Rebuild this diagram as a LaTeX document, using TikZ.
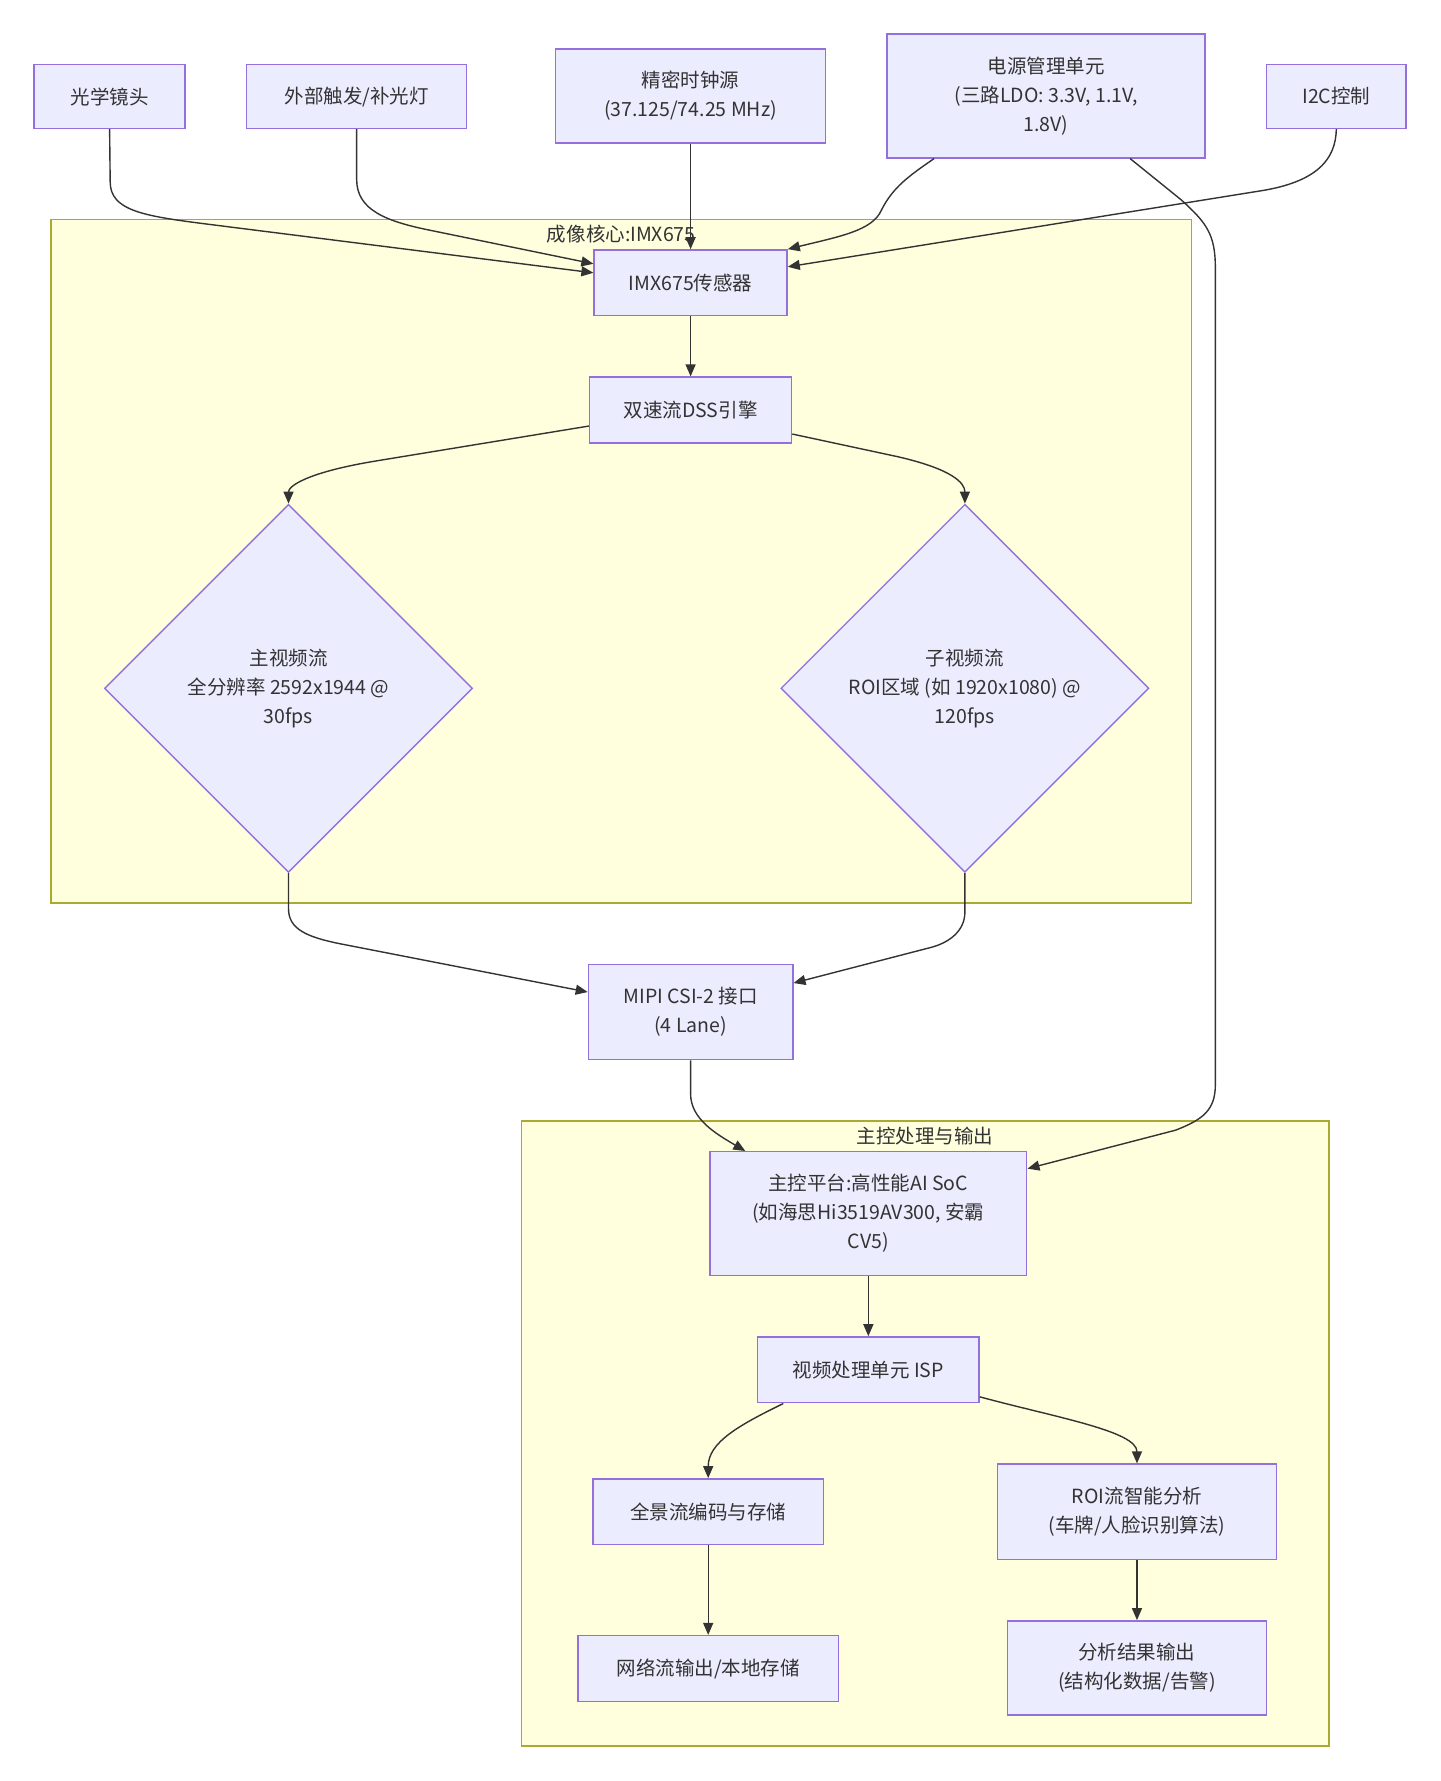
\documentclass[tikz,border=0pt]{standalone}
\usepackage{fontspec}
\setmainfont{Noto Sans CJK SC}
\usetikzlibrary{shapes.geometric,arrows.meta}
\definecolor{nodefill}{HTML}{ECECFF}
\definecolor{nodeline}{HTML}{9370DB}
\definecolor{clfill}{HTML}{FFFFDE}
\definecolor{clline}{HTML}{AAAA33}
\definecolor{ink}{HTML}{333333}
\begin{document}
\begin{tikzpicture}[x=1.13565pt,y=-1.13565pt,
  txt/.style={text=ink,font=\fontsize{19.5pt}{29pt}\selectfont},
  box/.style={txt,draw=nodeline,fill=nodefill,line width=1.4pt,align=center,inner sep=0pt},
  dia/.style={box,diamond,aspect=1,minimum width=368pt,minimum height=368pt},
  cluster/.style={draw=clline,fill=clfill,line width=1.4pt},
  arr/.style={draw=ink,line width=1.4pt,-{Triangle[length=12pt,width=10pt]}}
]
\fill[white] (0,0) rectangle (1268,1568);
\useasboundingbox (0,0) rectangle (1268,1568);

% clusters
\draw[cluster] (45,193) rectangle (1049,795);
\node[txt] (t1) at (547,206) {成像核心:IMX675};
\draw[cluster] (459,987) rectangle (1170,1537);
\node[txt] (t2) at (814.5,1000) {主控处理与输出};

% top nodes
\node[box,minimum width=151pt,minimum height=63.6pt] (lens) at (96.5,85) {光学镜头};
\node[box,minimum width=220pt,minimum height=63.6pt] (trig) at (314,85) {外部触发/补光灯};
\node[box,minimum width=270pt,minimum height=94.3pt] (clock) at (608,84.5) {精密时钟源\\(37.125/74.25 MHz)};
\node[box,minimum width=318pt,minimum height=123.8pt] (power) at (921,84.5) {电源管理单元\\(三路LDO: 3.3V, 1.1V,\\1.8V)};
\node[box,minimum width=139.7pt,minimum height=63.6pt] (i2c) at (1176.5,85) {I2C控制};

% imaging core
\node[box,minimum width=193pt,minimum height=65.9pt] (imx) at (608,249) {IMX675传感器};
\node[box,minimum width=202pt,minimum height=65.9pt] (dss) at (608,361) {双速流DSS引擎};
\node[dia] (main) at (254,606) {主视频流\\全分辨率 2592x1944 @\\30fps};
\node[dia] (sub) at (849.5,606) {子视频流\\ROI区域 (如 1920x1080) @\\120fps};

\node[box,minimum width=204.4pt,minimum height=95.4pt] (mipi) at (608,891) {MIPI CSI-2 接口\\(4 Lane)};

% main control
\node[box,minimum width=316.8pt,minimum height=123.8pt] (soc) at (764.5,1068.5) {主控平台:高性能AI SoC\\(如海思Hi3519AV300, 安霸\\CV5)};
\node[box,minimum width=221.4pt,minimum height=65.9pt] (isp) at (764.5,1206) {视频处理单元 ISP};
\node[box,minimum width=230.5pt,minimum height=65.9pt] (pano) at (623.5,1331) {全景流编码与存储};
\node[box,minimum width=279.4pt,minimum height=95.4pt] (roi) at (1001,1331) {ROI流智能分析\\(车牌/人脸识别算法)};
\node[box,minimum width=260pt,minimum height=65.9pt] (net) at (623.5,1469) {网络流输出/本地存储};
\node[box,minimum width=259pt,minimum height=94.3pt] (res) at (1001,1468.5) {分析结果输出\\(结构化数据/告警)};

% connectors
\draw[arr] (lens.south) -- (97,160) .. controls (97,185) and (125,190) .. (180,197) -- ([yshift=10pt]imx.west);
\draw[arr] (trig.south) -- (314,158) .. controls (314,185) and (340,195) .. (380,203) -- ([yshift=19pt]imx.west);
\draw[arr] (clock.south) -- (imx.north);
\draw[arr] ([xshift=-112pt]power.south) .. controls (800,155) and (786,165) .. (776,185) .. controls (768,203) and (740,208) .. (imx.north east);
\draw[arr] (i2c.south) .. controls (1176,140) and (1160,160) .. (1110,168) -- ([yshift=16pt]imx.east);
\draw[arr] ([xshift=84pt]power.south) -- (1040,176) .. controls (1062,196) and (1070,206) .. (1070,236) -- (1070,955) .. controls (1070,978) and (1058,986) .. (1035,995) -- ([yshift=45pt]soc.east);
\draw[arr] (imx.south) -- (dss.north);
\draw[arr] ([yshift=-16pt]dss.west) -- (330,406) .. controls (270,416) and (254,428) .. (main.north);
\draw[arr] ([yshift=-24pt]dss.east) -- (790,402) .. controls (838,413) and (849.5,425) .. (sub.north);
\draw[arr] (main.south) -- (254,800) .. controls (254,818) and (270,825) .. (300,831) -- ([yshift=20pt]mipi.west);
\draw[arr] (sub.south) -- (849.5,803) .. controls (849.5,820) and (835,830) .. (820,834) -- ([yshift=29pt]mipi.east);
\draw[arr] (mipi.south) -- (608,963) .. controls (608,985) and (630,998) .. ([xshift=-123pt]soc.north);
\draw[arr] (soc.south) -- (isp.north);
\draw[arr] ([xshift=-85pt]isp.south) .. controls (650,1255) and (623.5,1270) .. (pano.north);
\draw[arr] ([yshift=-27pt]isp.east) .. controls (930,1248) and (1001,1260) .. (roi.north);
\draw[arr] (pano.south) -- (net.north);
\draw[arr] (roi.south) -- (res.north);
\end{tikzpicture}
\end{document}
